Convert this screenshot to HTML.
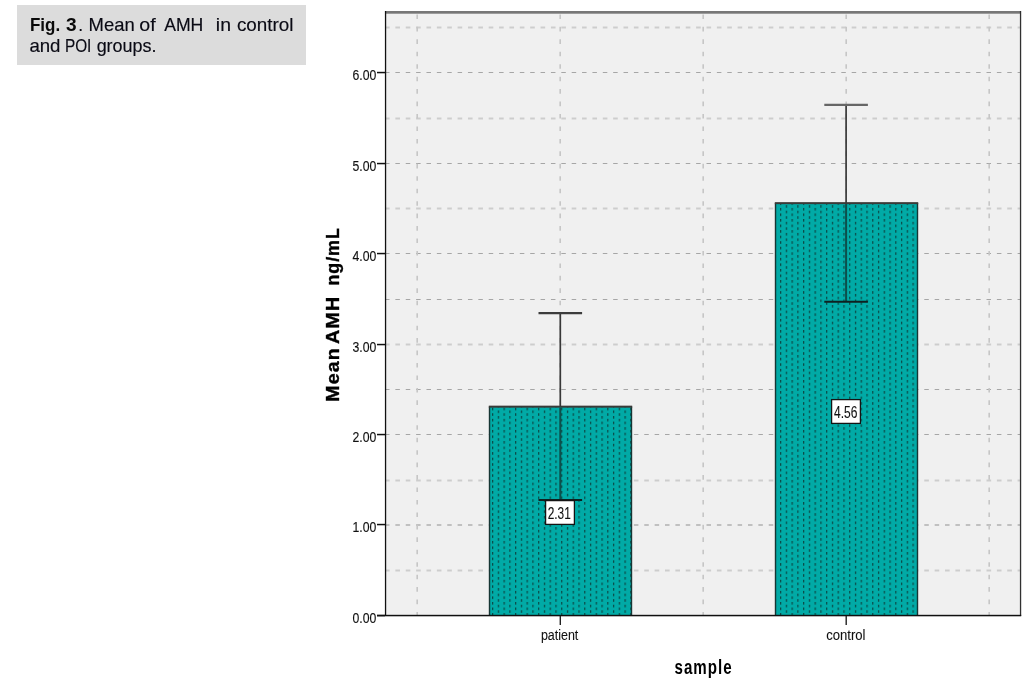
<!DOCTYPE html>
<html><head><meta charset="utf-8"><style>
html,body{margin:0;padding:0;background:#fff;width:1030px;height:687px;overflow:hidden;}
.cap{position:absolute;left:17px;top:5px;width:289px;height:60px;background:#dcdcdc;}
svg{position:absolute;left:0;top:0;}
.ov{will-change:transform;}
.cr{font-family:"Liberation Sans",sans-serif;font-size:17.5px;fill:#0a0a14;stroke:#0a0a14;stroke-width:0.15px;}
.cb{font-family:"Liberation Sans",sans-serif;font-size:17.5px;font-weight:bold;fill:#0a0a0a;}
.t{font-family:"Liberation Sans",sans-serif;font-size:16.5px;fill:#111;stroke:#111;stroke-width:0.12px;}
.ty{font-family:"Liberation Sans",sans-serif;font-size:15.5px;fill:#111;stroke:#111;stroke-width:0.15px;}
.tx{font-family:"Liberation Sans",sans-serif;font-size:15.5px;fill:#111;stroke:#111;stroke-width:0.1px;}
.b{font-family:"Liberation Sans",sans-serif;font-size:21px;font-weight:bold;fill:#000;letter-spacing:1.45px;}
.b2{font-family:"Liberation Sans",sans-serif;font-size:18px;font-weight:bold;fill:#000;letter-spacing:1.0px;stroke:#000;stroke-width:0.35px;}
</style></head><body>
<div class="cap"></div>
<svg width="1030" height="687" viewBox="0 0 1030 687">
<defs><pattern id="dots" patternUnits="userSpaceOnUse" x="492" y="407.7" width="11.52" height="5.55">
<rect x="0" y="0" width="11.52" height="5.55" fill="#01aaa6"/>
<rect x="0" y="0" width="1.25" height="2.6" fill="#0b4a47"/>
<rect x="5.76" y="2.775" width="1.25" height="2.6" fill="#0b4a47"/>
</pattern></defs>
<rect x="385" y="11" width="636" height="605" fill="#f0f0f0"/>
<line x1="385" y1="27.5" x2="1020" y2="27.5" stroke="#cdcdcd" stroke-width="2.2" stroke-dasharray="4.6 5.771"/>
<line x1="385" y1="118.5" x2="1020" y2="118.5" stroke="#cdcdcd" stroke-width="2.2" stroke-dasharray="4.6 5.771"/>
<line x1="385" y1="208.5" x2="1020" y2="208.5" stroke="#cdcdcd" stroke-width="2.2" stroke-dasharray="4.6 5.771"/>
<line x1="385" y1="344.5" x2="1020" y2="344.5" stroke="#cdcdcd" stroke-width="2.2" stroke-dasharray="4.6 5.771"/>
<line x1="385" y1="480.5" x2="1020" y2="480.5" stroke="#cdcdcd" stroke-width="2.2" stroke-dasharray="4.6 5.771"/>
<line x1="385" y1="570.5" x2="1020" y2="570.5" stroke="#cdcdcd" stroke-width="2.2" stroke-dasharray="4.6 5.771"/>
<line x1="385" y1="72.5" x2="1020" y2="72.5" stroke="#a6a6a6" stroke-width="1.1" stroke-dasharray="4.5 5.871"/>
<line x1="385" y1="163.5" x2="1020" y2="163.5" stroke="#a6a6a6" stroke-width="1.1" stroke-dasharray="4.5 5.871"/>
<line x1="385" y1="253.5" x2="1020" y2="253.5" stroke="#a6a6a6" stroke-width="1.1" stroke-dasharray="4.5 5.871"/>
<line x1="385" y1="299.5" x2="1020" y2="299.5" stroke="#a6a6a6" stroke-width="1.1" stroke-dasharray="4.5 5.871"/>
<line x1="385" y1="389.5" x2="1020" y2="389.5" stroke="#a6a6a6" stroke-width="1.1" stroke-dasharray="4.5 5.871"/>
<line x1="385" y1="434.5" x2="1020" y2="434.5" stroke="#a6a6a6" stroke-width="1.1" stroke-dasharray="4.5 5.871"/>
<line x1="385" y1="525" x2="1020" y2="525" stroke="#b0b0b0" stroke-width="1.5" stroke-dasharray="4.5 5.871"/>
<line x1="417.2" y1="14.4" x2="417.2" y2="615" stroke="#c6c6c6" stroke-width="1.6" stroke-dasharray="4.6 7.85"/>
<line x1="560.2" y1="14.4" x2="560.2" y2="615" stroke="#c6c6c6" stroke-width="1.6" stroke-dasharray="4.6 7.85"/>
<line x1="703.2" y1="14.4" x2="703.2" y2="615" stroke="#c6c6c6" stroke-width="1.6" stroke-dasharray="4.6 7.85"/>
<line x1="846.2" y1="14.4" x2="846.2" y2="615" stroke="#c6c6c6" stroke-width="1.6" stroke-dasharray="4.6 7.85"/>
<line x1="989.2" y1="14.4" x2="989.2" y2="615" stroke="#c6c6c6" stroke-width="1.6" stroke-dasharray="4.6 7.85"/>
<rect x="489" y="406.5605" width="143" height="208.9395" fill="url(#dots)"/>
<rect x="488.8" y="406.5605" width="1.4" height="208.9395" fill="#163634"/>
<rect x="630.8" y="406.5605" width="1.4" height="208.9395" fill="#163634"/>
<rect x="488.8" y="405.6605" width="143.4" height="2" fill="#3a3a38"/>
<rect x="775" y="203.048" width="143" height="412.452" fill="url(#dots)"/>
<rect x="774.8" y="203.048" width="1.4" height="412.452" fill="#163634"/>
<rect x="916.8" y="203.048" width="1.4" height="412.452" fill="#163634"/>
<rect x="774.8" y="202.148" width="143.4" height="2" fill="#3a3a38"/>
<line x1="560.3" y1="313.2" x2="560.3" y2="406.5605" stroke="#383838" stroke-width="1.7"/>
<line x1="560.3" y1="407.5605" x2="560.3" y2="500" stroke="#0c4f4b" stroke-width="2"/>
<line x1="538.5" y1="313.2" x2="582.0999999999999" y2="313.2" stroke="#3c3c3c" stroke-width="2.2"/>
<line x1="538.5" y1="500" x2="582.0999999999999" y2="500" stroke="#0e2120" stroke-width="2"/>
<line x1="846.1" y1="104.9" x2="846.1" y2="203.048" stroke="#383838" stroke-width="1.7"/>
<line x1="846.1" y1="204.048" x2="846.1" y2="301.8" stroke="#0c4f4b" stroke-width="2"/>
<line x1="824.3000000000001" y1="104.9" x2="867.9" y2="104.9" stroke="#666" stroke-width="2.2"/>
<line x1="824.3000000000001" y1="301.8" x2="867.9" y2="301.8" stroke="#0e2120" stroke-width="2"/>
<rect x="545.6" y="500.6" width="28.799999999999955" height="23.799999999999955" fill="#ffffff" stroke="#141414" stroke-width="1.3"/>
<rect x="831.6" y="399.6" width="28.799999999999955" height="23.799999999999955" fill="#ffffff" stroke="#141414" stroke-width="1.3"/>
<rect x="385" y="11" width="636" height="2.7" fill="#777777"/>
<rect x="1019.9" y="11" width="1.3" height="605" fill="#303030"/>
<rect x="384.9" y="11" width="1.3" height="605" fill="#101010"/>
<rect x="377" y="614.8" width="644.2" height="1.5" fill="#101010"/>
<rect x="377" y="614.8" width="8" height="1.5" fill="#101010"/>
<rect x="377" y="523.8" width="8" height="1.5" fill="#101010"/>
<rect x="377" y="433.8" width="8" height="1.5" fill="#101010"/>
<rect x="377" y="343.8" width="8" height="1.5" fill="#101010"/>
<rect x="377" y="252.8" width="8" height="1.5" fill="#101010"/>
<rect x="377" y="162.8" width="8" height="1.5" fill="#101010"/>
<rect x="377" y="71.8" width="8" height="1.5" fill="#101010"/>
<rect x="559.5999999999999" y="616" width="1.4" height="9" fill="#222"/>
<rect x="845.5" y="616" width="1.4" height="9" fill="#222"/>
</svg>
<svg class="ov" width="1030" height="687" viewBox="0 0 1030 687">
<text transform="translate(30.0,31) scale(0.971,1)" text-anchor="start" class="cb">Fig.</text>
<text transform="translate(65.88,31) scale(1.093,1)" text-anchor="start" class="cb">3</text>
<text transform="translate(78.3,31) scale(1.0,1)" text-anchor="start" class="cr">.</text>
<text transform="translate(88.52,31) scale(1.054,1)" text-anchor="start" class="cr">Mean</text>
<text transform="translate(139.35,31) scale(1.121,1)" text-anchor="start" class="cr">of</text>
<text transform="translate(164.2,31) scale(1.007,1)" text-anchor="start" class="cr">AMH</text>
<text transform="translate(215.85,31) scale(1.113,1)" text-anchor="start" class="cr">in</text>
<text transform="translate(236.89,31) scale(1.077,1)" text-anchor="start" class="cr">control</text>
<text transform="translate(29.4,52) scale(1.065,1)" text-anchor="start" class="cr">and</text>
<text transform="translate(64.9,52) scale(0.878,1)" text-anchor="start" class="cr">POI</text>
<text transform="translate(96.64,52) scale(1.027,1)" text-anchor="start" class="cr">groups.</text>
<text transform="translate(376.3,623.4) scale(0.79,1)" text-anchor="end" class="ty">0.00</text>
<text transform="translate(376.3,532.4) scale(0.79,1)" text-anchor="end" class="ty">1.00</text>
<text transform="translate(376.3,442.4) scale(0.79,1)" text-anchor="end" class="ty">2.00</text>
<text transform="translate(376.3,352.4) scale(0.79,1)" text-anchor="end" class="ty">3.00</text>
<text transform="translate(376.3,261.4) scale(0.79,1)" text-anchor="end" class="ty">4.00</text>
<text transform="translate(376.3,171.4) scale(0.79,1)" text-anchor="end" class="ty">5.00</text>
<text transform="translate(376.3,80.4) scale(0.79,1)" text-anchor="end" class="ty">6.00</text>
<text transform="translate(559.6,640) scale(0.805,1)" text-anchor="middle" class="tx">patient</text>
<text transform="translate(845.8,640) scale(0.845,1)" text-anchor="middle" class="tx">control</text>
<text transform="translate(559.2,518.6) scale(0.72,1)" text-anchor="middle" class="t">2.31</text>
<text transform="translate(845.7,417.6) scale(0.73,1)" text-anchor="middle" class="t">4.56</text>
<text transform="translate(703.6,674.2) scale(0.72,1)" text-anchor="middle" class="b">sample</text>
<text transform="translate(339,401.79) rotate(-90) scale(1.093,1)" class="b2">Mean</text>
<text transform="translate(339,343.9) rotate(-90) scale(1.095,1)" class="b2">AMH</text>
<text transform="translate(339,285.59) rotate(-90) scale(0.99,1)" class="b2">ng/mL</text>
</svg>
</body></html>
